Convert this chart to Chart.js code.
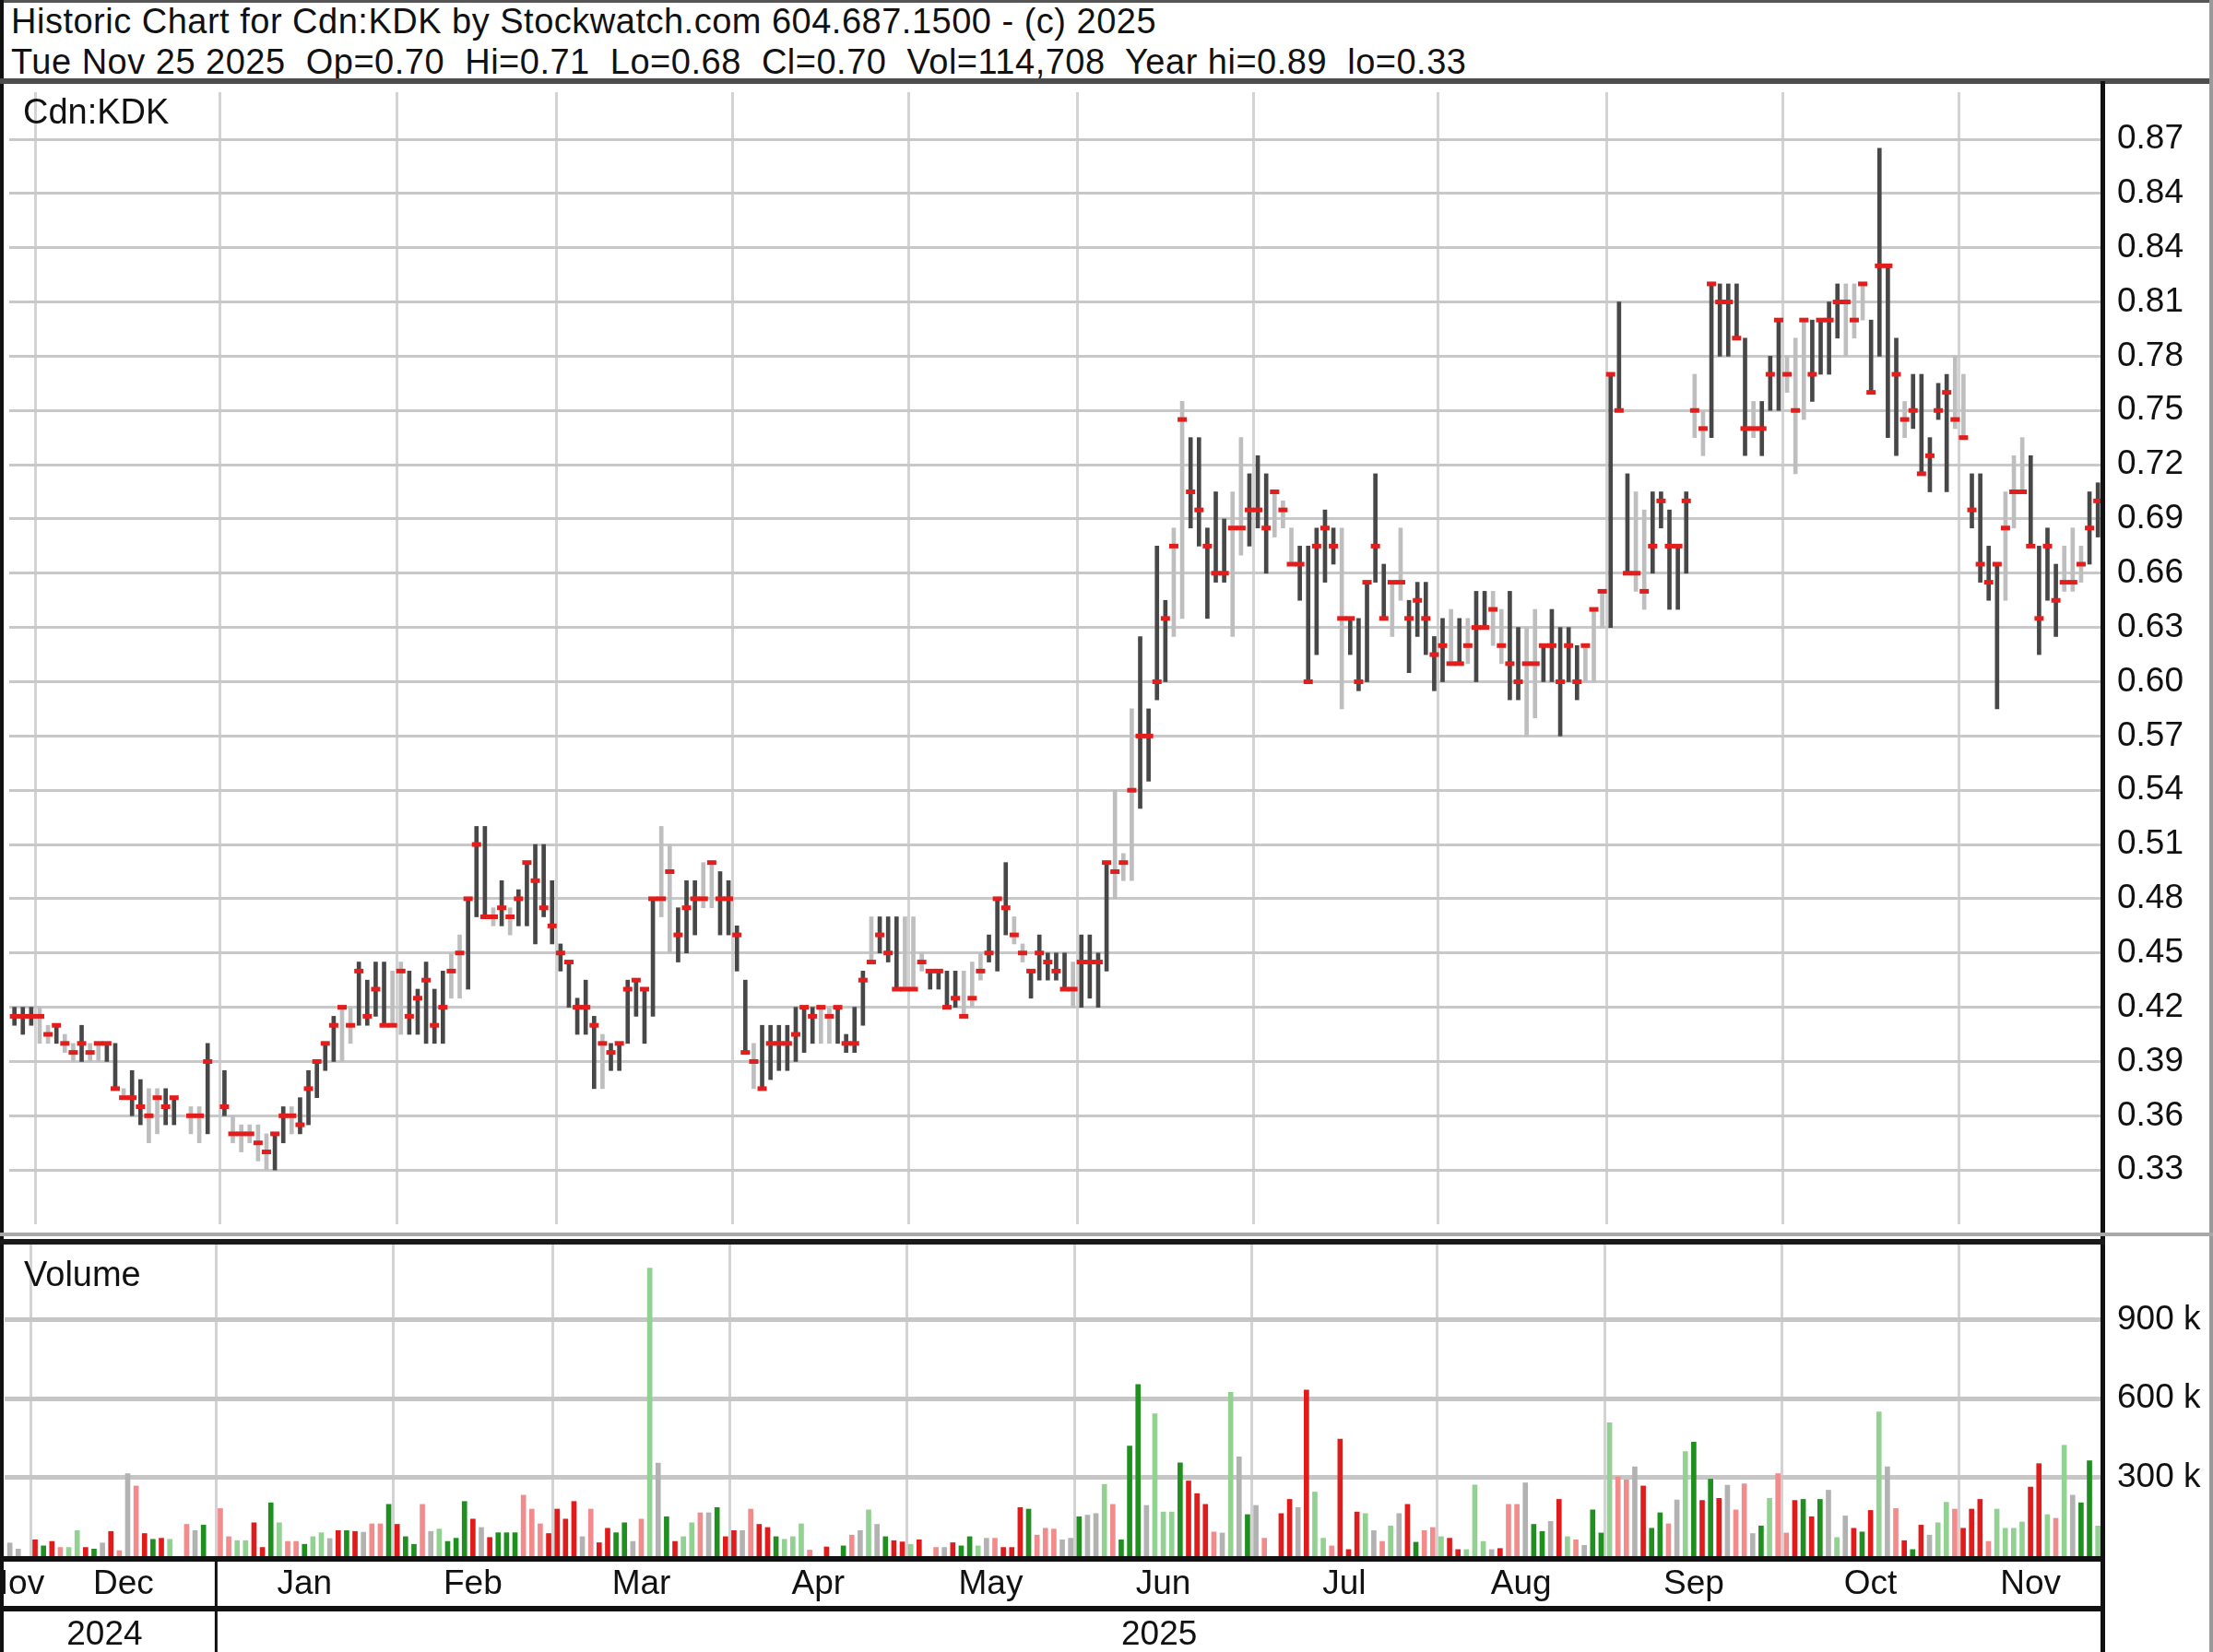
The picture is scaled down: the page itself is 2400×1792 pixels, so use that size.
<!DOCTYPE html>
<html lang="en">
<head>
<meta charset="UTF-8">
<title>Historic Chart for Cdn:KDK</title>
<script src="https://cdn.jsdelivr.net/npm/chart.js@4.4.1/dist/chart.umd.min.js"></script>
<style>
  body { margin: 0; background: #fff; }
  #page { position: relative; width: 2400px; height: 1792px; overflow: hidden; background: #fff;
          font-family: "Liberation Sans", Arial, sans-serif; color: #111; }
  .txt { position: absolute; white-space: pre; line-height: 1; }
  .hdr { left: 12px; font-size: 38px; letter-spacing: 0.5px; }
  .tag { font-size: 38px; }
  canvas { position: absolute; left: 0; }
  .ln { position: absolute; }
</style>
</head>
<body>
<div id="page">
  <canvas id="priceChart" width="2400" height="1248" style="top:90px"></canvas>
  <canvas id="volumeChart" width="2400" height="442" style="top:1350px"></canvas>

  <div class="txt hdr" style="top:4px">Historic Chart for Cdn:KDK by Stockwatch.com 604.687.1500 - (c) 2025</div>
  <div class="txt hdr" style="top:48px">Tue Nov 25 2025  Op=0.70  Hi=0.71  Lo=0.68  Cl=0.70  Vol=114,708  Year hi=0.89  lo=0.33</div>
  <div class="txt tag" style="left:25px;top:102px">Cdn:KDK</div>
  <div class="txt tag" style="left:26px;top:1363px">Volume</div>

  <!-- frame lines -->
  <div class="ln" style="left:0;top:0;width:2400px;height:3px;background:#555"></div>
  <div class="ln" style="left:0;top:0;width:4px;height:1792px;background:#111"></div>
  <div class="ln" style="left:0;top:85px;width:2400px;height:6px;background:#4d4d4d"></div>
  <div class="ln" style="left:2278px;top:88px;width:5px;height:1704px;background:#111"></div>
  <div class="ln" style="left:2396px;top:0;width:4px;height:1792px;background:#9a9a9a"></div>
  <div class="ln" style="left:0;top:1337px;width:2400px;height:4px;background:#a8a8a8"></div>
  <div class="ln" style="left:0;top:1344px;width:2283px;height:6px;background:#1a1a1a"></div>
</div>

<script>
// one slot per trading day, Nov 2024 .. Nov 25 2025
const monthNames = ['Nov', 'Dec', 'Jan', 'Feb', 'Mar', 'Apr', 'May', 'Jun', 'Jul', 'Aug', 'Sep', 'Oct', 'Nov'];
const monthSlots = [4, 22, 21, 19, 21, 21, 20, 21, 22, 20, 21, 21, 17];
const yearLabels = ['2024', '2025'];
const yearStartMonth = [0, 2];

const priceTickValues = [0.33, 0.36, 0.39, 0.42, 0.45, 0.48, 0.51, 0.54, 0.57, 0.60,
                         0.63, 0.66, 0.69, 0.72, 0.75, 0.78, 0.81, 0.84, 0.87, 0.90];
const priceTickLabels = ['0.33', '0.36', '0.39', '0.42', '0.45', '0.48', '0.51', '0.54', '0.57', '0.60',
                         '0.63', '0.66', '0.69', '0.72', '0.75', '0.78', '0.81', '0.84', '0.84', '0.87'];
const volTickValues = [300, 600, 900];
const volTickLabels = ['300 k', '600 k', '900 k'];

const highs = [
  null, .42, .42, .42,
  .42, .41, .41, .405, .40, .41, .40, .40, .40, .40, .375, .385, .38, .375, .375, .375, .37, null, .365, .365, .40, null,
  .385, .36, .355, .355, .355, .35, .35, .365, .365, .37, .385, .39, .40, .415, .42, .42, .445, .435, .445, .445, .44,
  .445, .44, .43, .445, .43, .44, .45, .46, .48, .52, .52, .475, .49, .475, .485, .50, .51, .51, .49,
  .455, .445, .425, .435, .415, .405, .40, .40, .435, .435, .43, .48, .52, .51, .475, .49, .49, .50, .50, .495, .49,
  .465, .435, .40, .41, .41, .41, .41, .42, .42, .42, .42, .42, .42, .405, .42, .44, .47, .47, .47, .47, .47,
  .47, .45, .44, .44, .44, .44, .44, .445, .45, .46, .48, .50, .47, .455, .44, .46, .45, .45, .45, .445,
  .46, .46, .45, .50, .54, .505, .585, .625, .585, .675, .645, .685, .755, .735, .735, .685, .705, .69, .705, .735, .715,
  .725, .715, .705, .70, .685, .675, .675, .685, .695, .685, .685, .635, .635, .655, .715, .665, .655, .685, .645, .655, .655, .625,
  .635, .64, .635, .635, .65, .65, .65, .64, .65, .63, .63, .64, .62, .64, .63, .63, .62, .62, .64, .65,
  .77, .81, .715, .705, .695, .705, .705, .695, .675, .705, .77, .75, .82, .82, .82, .82, .79, .755, .755, .78, .80,
  .78, .79, .80, .80, .80, .81, .82, .82, .82, .82, .80, .895, .83, .79, .755, .77, .77, .735, .765, .77, .78,
  .77, .715, .715, .675, .665, .705, .725, .735, .725, .675, .685, .665, .675, .685, .675, .705, .71
];
const lows = [
  null, .41, .405, .41,
  .40, .40, .40, .395, .39, .39, .39, .39, .39, .375, .37, .36, .355, .345, .35, .355, .355, null, .35, .345, .35, null,
  .36, .345, .34, .345, .335, .33, .33, .345, .35, .35, .355, .37, .385, .39, .39, .40, .41, .41, .415, .41, .41,
  .405, .405, .405, .40, .40, .40, .425, .425, .43, .47, .47, .465, .465, .46, .465, .465, .455, .47, .455,
  .44, .42, .405, .405, .375, .375, .385, .385, .40, .415, .40, .415, .47, .45, .445, .45, .46, .475, .475, .46, .46,
  .44, .395, .375, .375, .38, .385, .385, .39, .395, .40, .40, .40, .40, .395, .395, .41, .445, .45, .445, .43, .43,
  .43, .44, .43, .43, .42, .42, .415, .42, .435, .445, .44, .46, .455, .445, .425, .435, .435, .435, .43, .42,
  .42, .425, .42, .44, .48, .49, .49, .53, .545, .59, .60, .625, .635, .685, .675, .635, .655, .655, .625, .67, .675,
  .685, .66, .68, .685, .665, .645, .60, .615, .655, .665, .585, .615, .595, .60, .655, .635, .625, .645, .605, .625, .615, .595,
  .60, .61, .61, .61, .60, .63, .62, .61, .59, .59, .57, .58, .60, .60, .57, .60, .59, .60, .60, .63,
  .63, .75, .66, .65, .64, .66, .685, .64, .64, .66, .735, .725, .735, .78, .78, .79, .725, .735, .725, .75, .75,
  .76, .715, .745, .755, .77, .77, .79, .78, .79, .80, .76, .78, .735, .725, .735, .74, .715, .705, .745, .705, .74,
  .735, .685, .655, .645, .585, .645, .685, .705, .675, .615, .645, .625, .65, .65, .655, .665, .68
];
const closes = [
  null, .415, .415, .415,
  .415, .405, .41, .40, .395, .40, .395, .40, .40, .375, .37, .37, .365, .36, .37, .365, .37, null, .36, .36, .39, null,
  .365, .35, .35, .35, .345, .34, .35, .36, .36, .355, .375, .39, .40, .41, .42, .41, .44, .415, .43, .41, .41,
  .44, .415, .425, .435, .41, .42, .44, .45, .48, .51, .47, .47, .475, .47, .48, .50, .49, .475, .465,
  .45, .445, .42, .42, .41, .40, .395, .40, .43, .435, .43, .48, .48, .495, .46, .475, .48, .48, .50, .48, .48,
  .46, .395, .39, .375, .40, .40, .40, .405, .42, .415, .42, .415, .42, .40, .40, .435, .445, .46, .45, .43, .43,
  .43, .445, .44, .44, .42, .425, .415, .425, .44, .45, .48, .475, .46, .45, .44, .45, .445, .44, .43, .43,
  .445, .445, .445, .50, .495, .50, .54, .57, .57, .60, .635, .675, .745, .705, .695, .675, .66, .66, .685, .685, .695,
  .695, .685, .705, .695, .665, .665, .60, .675, .685, .675, .635, .635, .60, .655, .675, .635, .655, .655, .635, .645, .635, .615,
  .62, .61, .61, .62, .63, .63, .64, .62, .61, .60, .61, .61, .62, .62, .60, .62, .60, .62, .64, .65,
  .77, .75, .66, .66, .65, .675, .70, .675, .675, .70, .75, .74, .82, .81, .81, .79, .74, .74, .74, .77, .80,
  .77, .75, .80, .77, .80, .80, .81, .81, .80, .82, .76, .83, .83, .77, .745, .75, .715, .725, .75, .76, .745,
  .735, .695, .665, .655, .665, .685, .705, .705, .675, .635, .675, .645, .655, .655, .665, .685, .70
];
// D = dark bar, L = light bar, . = no trade
const barTone = ['.DDD', 'LLDLLDLLDDLDDLLDD.LLD.', 'DLLLLLDDLDDDDDLLDDDDL', 'LDDDDDLLDDDLDLDDDDD',
  'DDDDDLDDDDDDLLDDDLLDD', 'DDLDDDDDDDLLDDDDLDDDL', 'LLDDDDLLLDDDLLDDDDDL', 'DDDDLLLDDDDLLDDDDDLLD',
  'DDLLLDDDDDLDDDDDLLDDDD', 'DLDLDDLLDDLLDDDDDLLL', 'DDDLLDDDDDLLDDDDDLDDD', 'LLLDDDDLLLDDDDLDDDDDL',
  'LDDDDLLLDDDDLLLDD'].join('');

// volume in thousands of shares
const volumeK = [
  null, 50, 27, null,
  62, 39, 56, 33, 33, 97, 33, 27, 50, 94, 21, 314, 267, 86, 64, 68, 64, null, 121, 97, 118, null,
  181, 74, 59, 59, 127, 33, 203, 127, 56, 56, 45, 74, 89, 67, 97, 97, 94, 91, 123, 123, 197,
  121, 74, 45, 197, 94, 103, 56, 68, 208, 141, 109, 71, 89, 89, 89, 232, 179, 123, 86,
  179, 141, 208, 74, 179, 51, 106, 89, 127, 56, 141, 1096, 354, 150, 56, 74, 127, 165, 165, 185, 74,
  97, 97, 179, 121, 109, 74, 64, 74, 123, 23, null, 35, null, 39, 80, 97, 176, 121, 74, 59, 54,
  45, 62, null, 33, 33, 51, 39, 74, 39, 68, 68, 33, 33, 185, 179, 80, 106, 103, 62, 68,
  150, 156, 162, 273, 197, 62, 419, 653, 193, 542, 168, 168, 355, 286, 238, 197, 92, 88, 623, 378, 158,
  193, 68, null, 162, 216, 185, 632, 244, 68, 39, 445, 25, 168, 162, 97, 56, 115, 162, 197, 53, 97, 109,
  74, 68, 25, 25, 271, 56, 25, 29, 197, 197, 279, 121, 94, 132, 216, 74, 62, 41, 176, 88,
  508, 302, 290, 340, 267, 106, 165, 123, 214, 398, 434, 212, 293, 220, 270, 176, 275, 86, 115, 220, 314,
  88, 212, 216, 150, 216, 251, 71, 153, 106, 92, 174, 549, 340, 181, 59, 25, 118, 80, 127, 205, 179,
  106, 179, 216, 56, 179, 106, 106, 130, 263, 352, 158, 144, 422, 232, 203, 363, 114.708
];
// G/g = up (dark/light), R/r = down (dark/light), n = unchanged
const volTone = ['.nn.', 'RGRrggRGnRrnrRGRg.rnG.', 'rrggRRGgrrGggnRGRnrrG', 'RGGrngGGGRnRGGGrrrR',
  'RRRnrRRGGnrgnGRggrnGR', 'RnrRRGgggr.R.GrngnGRR', 'gR.rnRGGgnrRRRGrrrnn', 'GnngrGGGngggGRRRrngnG',
  'nr.RRnRggrRRRgnrgnRGrr', 'gRRgggnRrrnGGnRgrnGG', 'grrnRGGrngGRGRnrrnGgr', 'rRGRGngnRGRgnrRGRnggr',
  'RRRrggggRRgrgnGGg'].join('');

const toneColour = { D: '#474747', L: '#bebebe' };
const volColour = { G: '#1f8f1f', g: '#92d192', R: '#e01b1b', r: '#f28c8c', n: '#b2b2b2' };

// visible slot range of the plot
const xMin = 0.38, xMax = 249.53;

const edges = [-0.5];
monthSlots.forEach(n => edges.push(edges[edges.length - 1] + n));
const gridEdges = edges.slice(1, -1);
const edgeSet = new Set(gridEdges);
// first month is cut by the left edge; its label sits a bit further left, like the original
const centres = monthNames.map((m, k) => (Math.max(edges[k], k === 0 ? -1 : xMin) + Math.min(edges[k + 1], xMax)) / 2);
const centreLabel = new Map(centres.map((c, k) => [c, monthNames[k]]));

const ranges = [], rangeCols = [], closePts = [];
highs.forEach((h, i) => {
  if (h == null) return;
  ranges.push({ x: i, y: [lows[i], h] });
  rangeCols.push(toneColour[barTone[i]]);
  closePts.push({ x: i, y: closes[i] });
});
const vols = [], volCols = [];
volumeK.forEach((v, i) => {
  if (v == null) return;
  vols.push({ x: i, y: v });
  volCols.push(volColour[volTone[i]]);
});

const FONT = '"Liberation Sans", Arial, sans-serif';
Chart.defaults.font.family = FONT;

function xScale(showLabels) {
  return {
    type: 'linear', min: xMin, max: xMax, offset: false,
    afterBuildTicks: s => {
      const vals = showLabels ? [gridEdges[0], ...centres, ...gridEdges.slice(1)] : gridEdges;
      s.ticks = vals.map(v => ({ value: v }));
    },
    afterFit: s => { s.height = showLabels ? 104 : 0; s.paddingLeft = 0; s.paddingRight = 0; },
    grid: {
      offset: false, drawTicks: false, lineWidth: 3,
      color: c => (c.tick && edgeSet.has(c.tick.value)) ? '#d3d3d3' : 'rgba(0,0,0,0)'
    },
    border: { display: false },
    ticks: {
      display: showLabels, autoSkip: false, maxRotation: 0, minRotation: 0, padding: 9,
      color: '#111', font: { size: 37 },
      callback: v => centreLabel.get(v) || ''
    }
  };
}

function yScale(min, max, values, labels, gridWidth, gridColour) {
  return {
    position: 'right', min: min, max: max,
    afterBuildTicks: s => { s.ticks = values.map(v => ({ value: v })); },
    afterFit: s => { s.width = 120; s.paddingTop = 0; s.paddingBottom = 0; },
    grid: { drawTicks: false, lineWidth: gridWidth, color: gridColour },
    border: { display: true, color: '#111', width: 5 },
    ticks: { padding: 16, color: '#111', font: { size: 37 }, callback: (v, i) => labels[i] }
  };
}

const baseOptions = {
  responsive: false, animation: false, devicePixelRatio: 1,
  layout: { padding: { left: 5, right: 0, top: 0, bottom: 0 } },
  plugins: { legend: { display: false }, tooltip: { enabled: false } }
};

new Chart(document.getElementById('priceChart'), {
  type: 'bar',
  data: {
    datasets: [
      { type: 'scatter', data: closePts, pointStyle: 'line', pointRadius: 5, pointHoverRadius: 5,
        pointBorderWidth: 5, pointBorderColor: '#e31c1c', borderColor: '#e31c1c', order: 1 },
      { type: 'bar', data: ranges, backgroundColor: rangeCols, barThickness: 4, order: 2 }
    ]
  },
  options: Object.assign({}, baseOptions, {
    scales: {
      x: xScale(false),
      y: yScale(0.30, 0.926, priceTickValues, priceTickLabels, 3, '#c8c8c8')
    }
  })
});

// bottom rows: frame lines, year divider and year labels
const yearRow = {
  id: 'yearRow',
  afterDraw(chart) {
    const { ctx, chartArea } = chart;
    const x = chart.scales.x;
    const h = chart.height;
    ctx.save();
    ctx.fillStyle = '#111';
    ctx.fillRect(0, chartArea.bottom, chartArea.right, 6);
    ctx.fillRect(0, chartArea.bottom + 54, chartArea.right, 6);
    const breaks = yearStartMonth.map(m => Math.max(edges[m], xMin)).concat([xMax]);
    const divX = x.getPixelForValue(breaks[1]);
    ctx.fillRect(divX - 1.5, chartArea.bottom, 3, h - chartArea.bottom);
    ctx.font = '37px ' + FONT;
    ctx.textAlign = 'center';
    ctx.textBaseline = 'middle';
    yearLabels.forEach((lab, k) => {
      const a = x.getPixelForValue(k === 0 ? -1 : breaks[k]);
      const b = x.getPixelForValue(breaks[k + 1]);
      ctx.fillText(lab, (a + b) / 2, chartArea.bottom + 86);
    });
    ctx.restore();
  }
};

new Chart(document.getElementById('volumeChart'), {
  type: 'bar',
  data: { datasets: [{ data: vols, backgroundColor: volCols, barThickness: 5 }] },
  options: Object.assign({}, baseOptions, {
    scales: {
      x: xScale(true),
      y: yScale(0, 1186, volTickValues, volTickLabels, 5, '#c6c6c6')
    }
  }),
  plugins: [yearRow]
});
</script>
</body>
</html>
